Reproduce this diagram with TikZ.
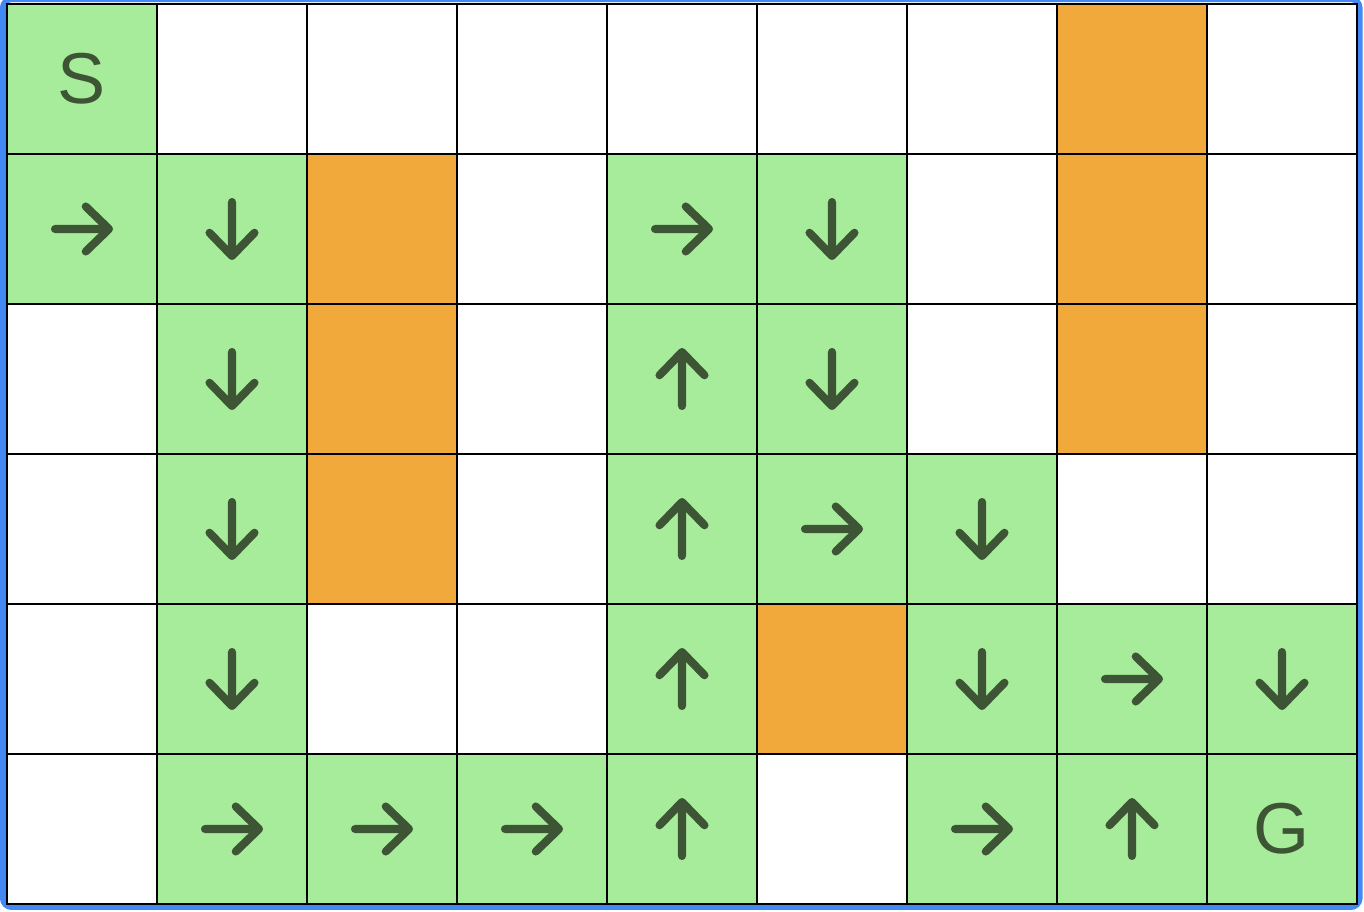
\documentclass[tikz,border=0pt]{standalone}
\usepackage{fontspec}
\setmainfont{Liberation Sans}
\definecolor{free}{HTML}{FFFFFF}
\definecolor{path}{HTML}{A7EC9B}
\definecolor{wall}{HTML}{F1A93C}
\definecolor{ink}{HTML}{3D5435}
\definecolor{rim}{HTML}{4289F4}
\begin{document}
\begin{tikzpicture}[x=1.5cm,y=-1.5cm,
cell/.style={draw,line width=0.6pt,minimum size=1.5cm,inner sep=0pt,outer sep=0pt},
letter/.style={text=ink,font=\fontsize{20.5}{24}\selectfont},
move/.style={ink,line width=2.3pt,line cap=round,line join=round}]
\useasboundingbox (-0.0467,-0.0267) rectangle (9.0467,6.0533);
\draw[rim,line width=1.7pt,rounded corners=2.5pt] (-0.027,-0.033) rectangle (9.017,6.02);
\foreach \r/\row in {0/{path,free,free,free,free,free,free,wall,free},
1/{path,path,wall,free,path,path,free,wall,free},
2/{free,path,wall,free,path,path,free,wall,free},
3/{free,path,wall,free,path,path,path,free,free},
4/{free,path,free,free,path,wall,path,path,path},
5/{free,path,path,path,path,free,path,path,path}}{
\foreach \k [count=\c from 0] in \row {
\node[cell,fill=\k](c\c\r) at (\c+.5,\r+.5){};
}
}
\node[letter](start) at (c00){S};
\node[letter](goal) at (c85){G};
\foreach \n/\a in {c01/0, c11/-90, c41/0, c51/-90, c12/-90, c42/90, c52/-90,
c13/-90, c43/90, c53/0, c63/-90, c14/-90, c44/90, c64/-90, c74/0, c84/-90,
c15/0, c25/0, c35/0, c45/90, c65/0, c75/90}{
\draw[move,shift={(\n)},rotate=\a](-.18,0)--(.18,0) (.025,-.15)--(.18,0)--(.025,.15);
}
\end{tikzpicture}
\end{document}
